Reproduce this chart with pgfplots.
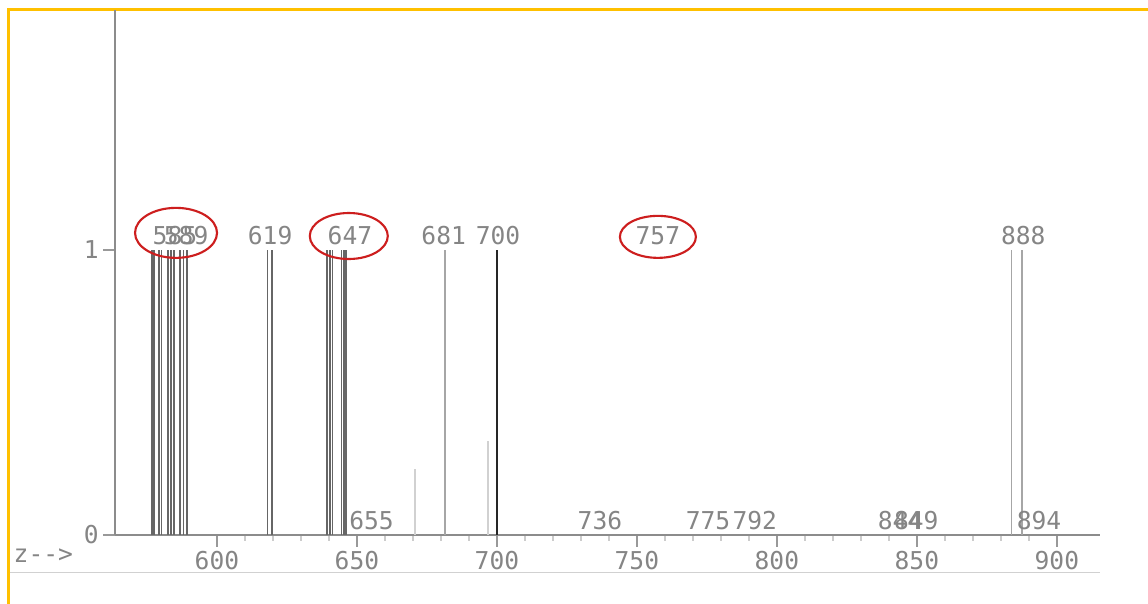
\documentclass[border=0pt]{standalone}
\usepackage{pgfplots}
\pgfplotsset{compat=1.18}
\usepackage{fontspec}
\setmainfont{DejaVu Sans Mono}
\definecolor{scan}{gray}{0.52}
\definecolor{frame}{RGB}{255,192,0}
\definecolor{ring}{RGB}{205,30,30}

\begin{document}
\begin{tikzpicture}[x=1cm,y=1cm]
\useasboundingbox (0,0) rectangle (11.48,6.04);
\fill[white] (0,0) rectangle (11.48,6.04);
\draw[frame, line width=0.03cm] (0.085,0) -- (0.085,5.94) -- (11.48,5.94);
\draw[black!18, line width=0.01cm] (0.10,0.31) -- (11.0,0.31);
\node[anchor=west, text=scan, font=\fontsize{7}{8}\selectfont, inner sep=0pt] at (0.13,0.48) {z-{}-{}>};
\begin{axis}[
at={(1.15cm,0.69cm)}, anchor=south west,
scale only axis, width=9.85cm, height=5.25cm,
xmin=563.6, xmax=915.4, ymin=0, ymax=1.842,
axis x line=bottom, axis y line=left,
axis line style={black!45, line width=0.4pt, -},
tick align=outside,
major tick length=0.12cm, minor tick length=0.06cm,
tick style={black!40, line width=0.4pt},
minor tick style={black!20},
xtick={600,650,...,900}, minor x tick num=4,
ytick={0,1},
ticklabel style={font=\fontsize{7}{8}\selectfont, text=scan},
xticklabel style={yshift=0.08cm},
yticklabel style={xshift=0.08cm},
/pgf/number format/assume math mode=true,
clip=false,
]
% main peaks, relative intensity
\addplot[ycomb, black!60, line width=0.45pt, mark=none] table {
x y
576.9 1
577.6 1
579.4 1
580.2 1
582.6 1
583.6 1
584.6 1
586.8 1
588.0 1
589.4 1
618.1 1
619.6 1
639.4 1
640.4 1
641.3 1
644.5 1
645.4 1
646.2 1
};
\addplot[ycomb, black!85, line width=0.45pt, mark=none] table {
x y
700.0 1
};
\addplot[ycomb, black!35, line width=0.45pt, mark=none] table {
x y
681.4 1
883.8 1
887.5 1
};
\addplot[ycomb, black!18, line width=0.4pt, mark=none] table {
x y
670.7 0.23
696.8 0.33
};
% peak labels
\addplot[draw=none, mark=none, nodes near coords, point meta=explicit symbolic,
  every node near coord/.append style={anchor=south, inner sep=0pt, yshift=0.04cm,
  text=scan, font=\fontsize{7}{8}\selectfont}]
table[meta=label] {
x y label
585 1 585
589 1 589
619 1 619
647.5 1 647
681 1 681
700.4 1 700
757.5 1 757
888 1 888
655.2 0 655
736.8 0 736
775.4 0 775
792.1 0 792
844 0 844
849.8 0 849
893.6 0 894
};
\draw[ring, line width=0.6pt] (axis cs:585.4,1.06) ellipse [x radius=0.41cm, y radius=0.25cm];
\draw[ring, line width=0.6pt] (axis cs:647.1,1.049) ellipse [x radius=0.39cm, y radius=0.23cm];
\draw[ring, line width=0.6pt] (axis cs:757.5,1.046) ellipse [x radius=0.38cm, y radius=0.21cm];
\end{axis}
\end{tikzpicture}
\end{document}
